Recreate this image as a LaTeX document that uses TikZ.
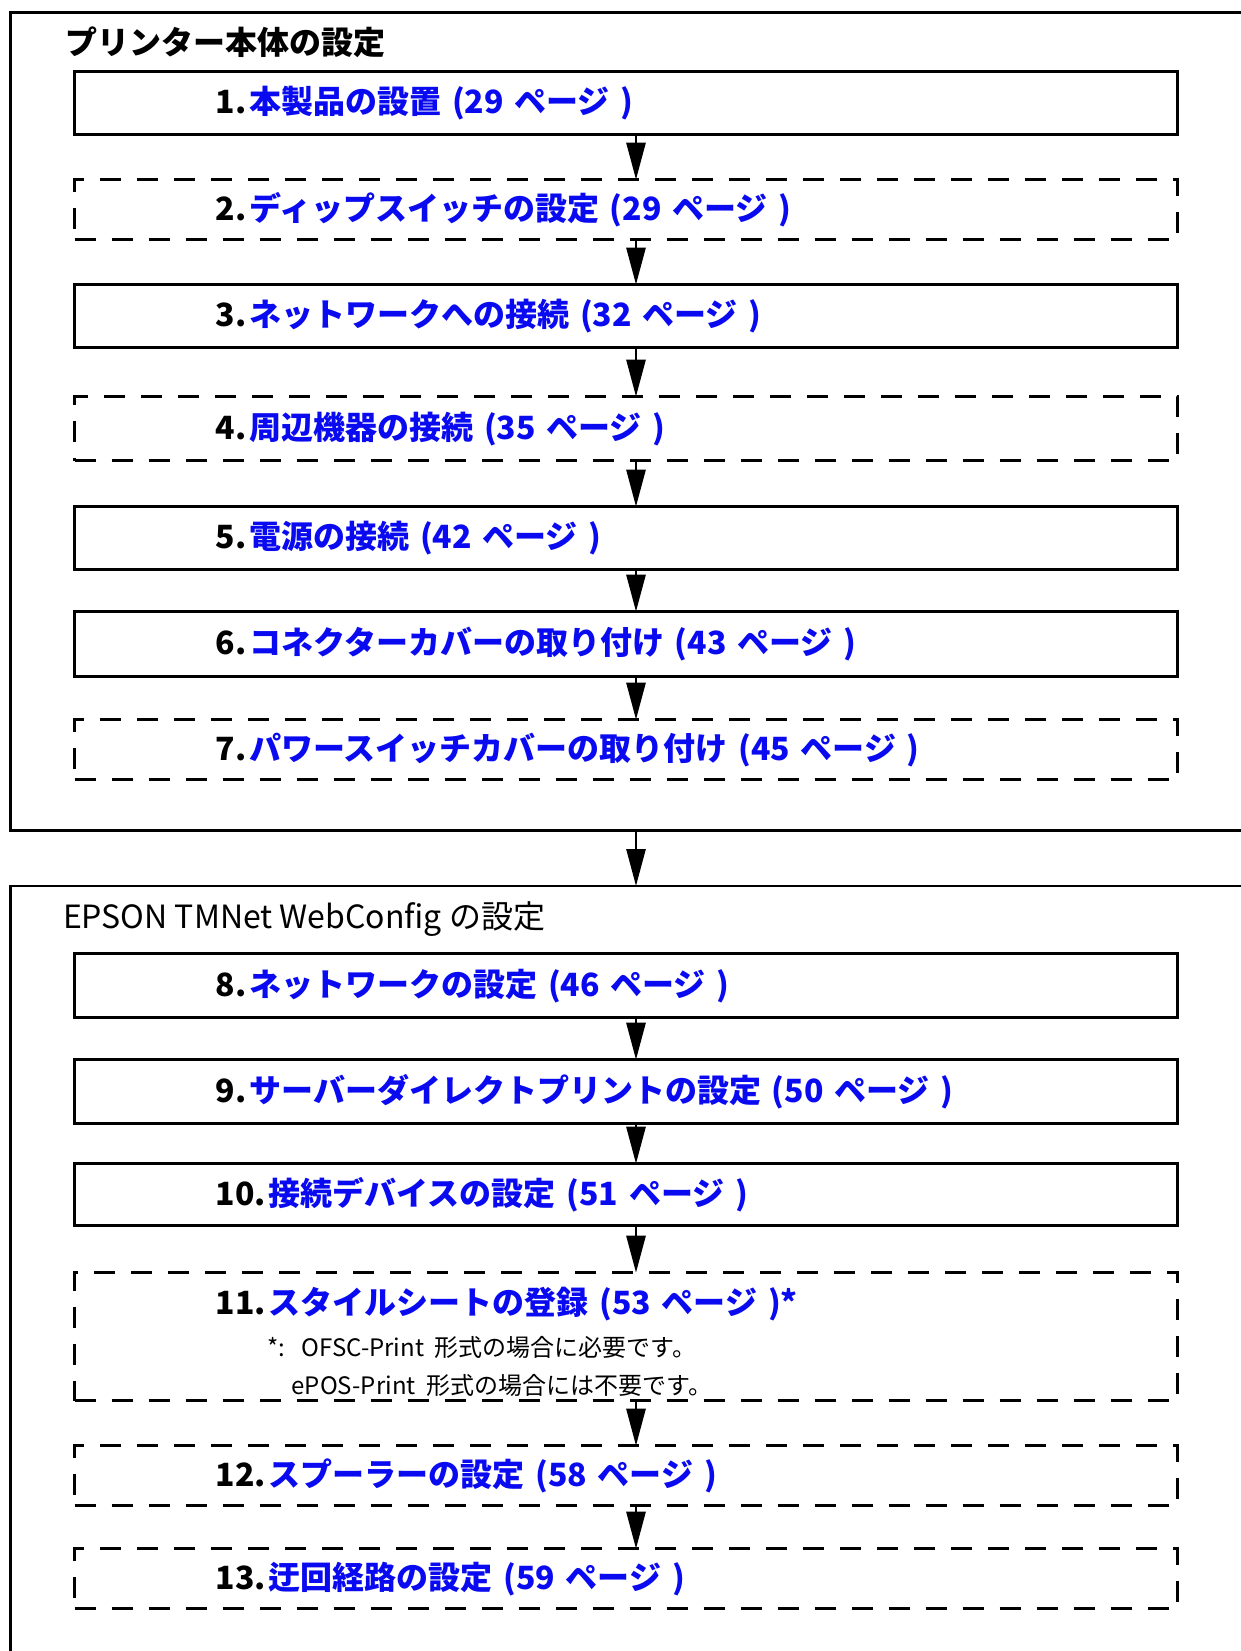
\documentclass[tikz,border=0pt]{standalone}
\usepackage{fontspec}
\newfontfamily\jpfont{Noto Sans CJK JP}
\usetikzlibrary{positioning,arrows.meta}
\definecolor{pageblue}{RGB}{10,10,240}
\newcommand{\notefont}{\jpfont\mdseries\fontsize{24}{34}\selectfont}
\newcommand{\pgref}[1]{\hspace{3pt}\textcolor{pageblue}{#1}}

\begin{document}
\begin{tikzpicture}[
	x=1pt, y=-1pt,
	node distance=45pt,
	outer sep=0pt,
	frame/.style={
		draw, line width=2.8pt,
		minimum width=1260pt,
		anchor=north west
	},
	ttl/.style={
		anchor=west, inner sep=0pt,
		font=\jpfont\bfseries\fontsize{32}{38}\selectfont
	},
	stepbox/.style={
		draw, line width=2.8pt,
		minimum height=63pt,
		text width=821pt, inner xsep=141pt, inner ysep=0pt,
		align=left,
		font=\jpfont\bfseries\fontsize{32}{38}\selectfont
	},
	optbox/.style={
		stepbox,
		dash pattern=on 21pt off 16pt,
		minimum height=60pt
	},
	flow/.style={
		line width=2.8pt,
		-{Triangle[length=37pt,width=19pt]}
	}
	]

	\useasboundingbox (0,0) rectangle (1240,1651);

	\node [frame, minimum height=818pt] (F1) at (10.5,12.6) {};
	\node [frame, minimum height=800pt] (F2) at (10.5,886) {};
	\coordinate (ax) at (636,0);

	\node [ttl] (T1) at (65,42) {プリンター本体の設定};
	\node [ttl, font=\jpfont\mdseries\fontsize{32}{38}\selectfont] (T2) at (63,919) {EPSON TMNet WebConfig の設定};

	% printer
	\node [stepbox, anchor=north west] (b1) at (74.7,71.6) {1.\pgref{本製品の設置 (29 ページ )}};
	\node [optbox, below=45pt of b1] (b2) {2.\pgref{ディップスイッチの設定 (29 ページ )}};
	\node [stepbox, below=45pt of b2] (b3) {3.\pgref{ネットワークへの接続 (32 ページ )}};
	\node [optbox, below=49pt of b3, minimum height=64pt] (b4) {4.\pgref{周辺機器の接続 (35 ページ )}};
	\node [stepbox, below=46pt of b4] (b5) {5.\pgref{電源の接続 (42 ページ )}};
	\node [stepbox, below=42pt of b5, minimum height=65pt] (b6) {6.\pgref{コネクターカバーの取り付け (43 ページ )}};
	\node [optbox, below=43pt of b6] (b7) {7.\pgref{パワースイッチカバーの取り付け (45 ページ )}};

	% webconfig
	\node [stepbox, anchor=north west, minimum height=64pt] (b8) at (74.7,953.7) {8.\pgref{ネットワークの設定 (46 ページ )}};
	\node [stepbox, below=42pt of b8, minimum height=64pt] (b9) {9.\pgref{サーバーダイレクトプリントの設定 (50 ページ )}};
	\node [stepbox, below=40pt of b9, minimum height=62pt] (b10) {10.\pgref{接続デバイスの設定 (51 ページ )}};
	\node [optbox, below=47pt of b10, minimum height=128pt] (b11) {\rule{0pt}{38pt}11.\pgref{スタイルシートの登録 (53 ページ )*}\\[8pt]
		\notefont\hspace*{52pt}*: OFSC-Print 形式の場合に必要です。\\
		\hspace*{76pt}ePOS-Print 形式の場合には不要です。};
	\node [optbox, below=45pt of b11] (b12) {12.\pgref{スプーラーの設定 (58 ページ )}};
	\node [optbox, below=43pt of b12] (b13) {13.\pgref{迂回経路の設定 (59 ページ )}};

	\foreach \a/\b in {b1/b2,b2/b3,b3/b4,b4/b5,b5/b6,b6/b7,F1/F2,b8/b9,b9/b10,b10/b11,b11/b12,b12/b13}
		\draw [flow] (\a.south -| ax) -- (\b.north -| ax);

\end{tikzpicture}
\end{document}
